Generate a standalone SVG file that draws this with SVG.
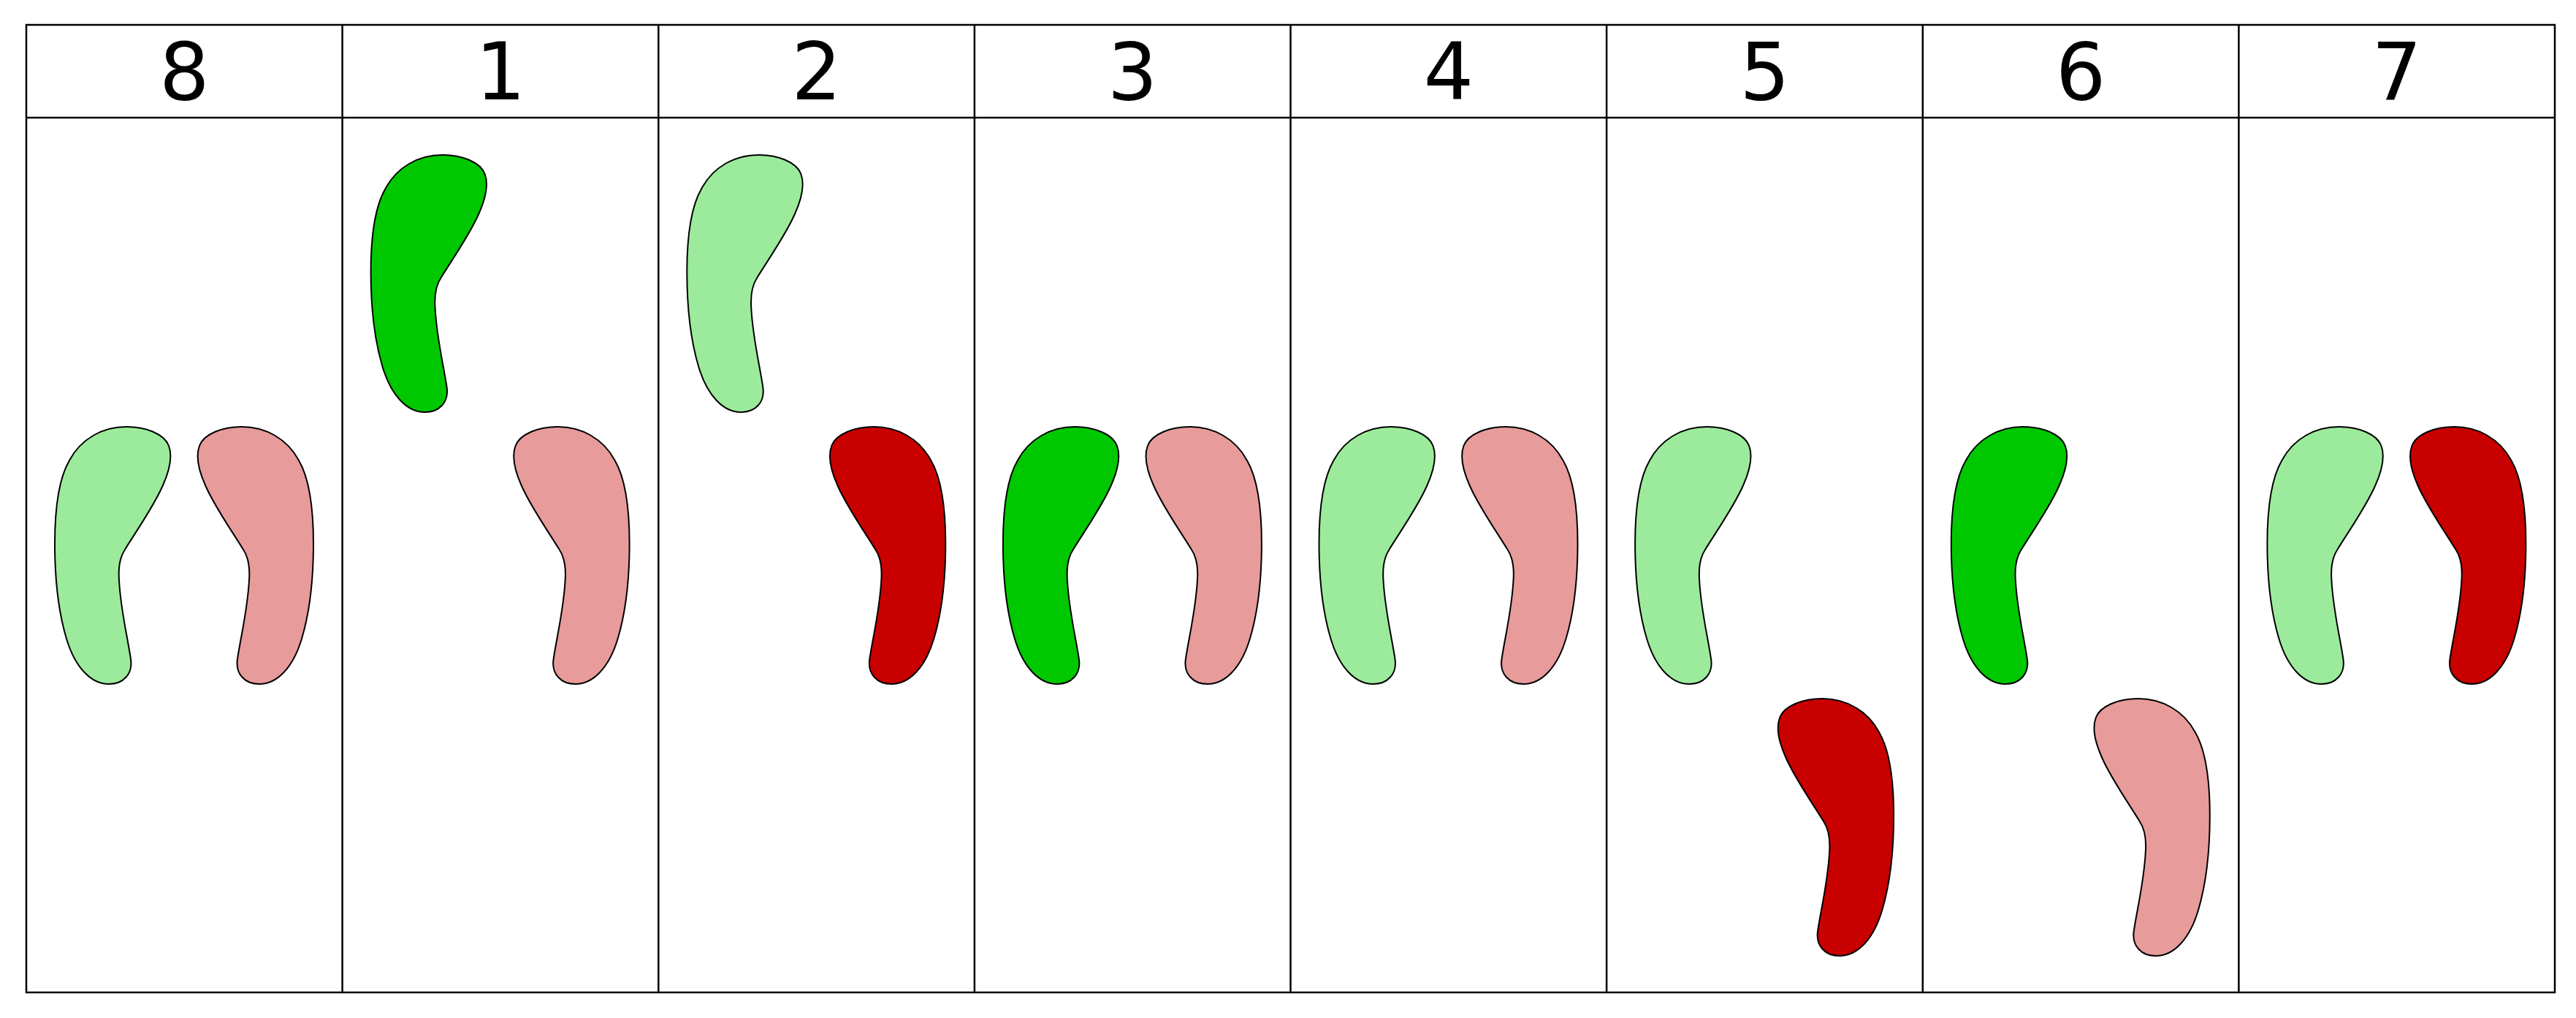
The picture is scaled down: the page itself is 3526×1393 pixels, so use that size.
<svg xmlns="http://www.w3.org/2000/svg" xmlns:xlink="http://www.w3.org/1999/xlink" width="3526" height="1393" viewBox="0 0 3526 1393">
<style>
.grid{fill:none;stroke:#000;stroke-width:2.5}
.hdr{font-family:"DejaVu Sans",sans-serif;font-size:108px;fill:#000;text-anchor:middle}
.foot{stroke:#000;stroke-width:2}
.lg{fill:#9ceb9c}.dg{fill:#00c800}.pk{fill:#e89b9b}.dr{fill:#c80000}
</style>
<defs>
<path id="footL" d="M98,0 C125,0 150,10 156,26 C162,42 156,62 148,80 C136,108 112,142 96,168 C88,180 87,196 88,210 C90,250 100,290 104,318 C107,338 94,352 74,352 C50,352 28,330 16,290 C4,250 0,200 0,160 C0,110 6,70 20,46 C36,16 66,0 98,0 Z"/>
</defs>
<rect width="3526" height="1393" fill="#fff"/>
<g id="table" class="grid">
<rect x="36" y="34" width="3461" height="1324"/>
<line x1="36" y1="161" x2="3497" y2="161"/>
<line x1="468.6" y1="34" x2="468.6" y2="1358"/>
<line x1="901.3" y1="34" x2="901.3" y2="1358"/>
<line x1="1333.9" y1="34" x2="1333.9" y2="1358"/>
<line x1="1766.5" y1="34" x2="1766.5" y2="1358"/>
<line x1="2199.1" y1="34" x2="2199.1" y2="1358"/>
<line x1="2631.8" y1="34" x2="2631.8" y2="1358"/>
<line x1="3064.4" y1="34" x2="3064.4" y2="1358"/>
</g>
<g id="headers" class="hdr">
<text x="252.3" y="136">8</text>
<text x="685" y="136">1</text>
<text x="1117.6" y="136">2</text>
<text x="1550.2" y="136">3</text>
<text x="1982.8" y="136">4</text>
<text x="2415.5" y="136">5</text>
<text x="2848.1" y="136">6</text>
<text x="3280.7" y="136">7</text>
</g>
<g id="col8">
<use xlink:href="#footL" class="foot lg" transform="translate(75,584)"/>
<use xlink:href="#footL" class="foot pk" transform="translate(429,584) scale(-1,1)"/>
</g>
<g id="col1">
<use xlink:href="#footL" class="foot dg" transform="translate(507.6,212)"/>
<use xlink:href="#footL" class="foot pk" transform="translate(861.6,584) scale(-1,1)"/>
</g>
<g id="col2">
<use xlink:href="#footL" class="foot lg" transform="translate(940.3,212)"/>
<use xlink:href="#footL" class="foot dr" transform="translate(1294.3,584) scale(-1,1)"/>
</g>
<g id="col3">
<use xlink:href="#footL" class="foot dg" transform="translate(1372.9,584)"/>
<use xlink:href="#footL" class="foot pk" transform="translate(1726.9,584) scale(-1,1)"/>
</g>
<g id="col4">
<use xlink:href="#footL" class="foot lg" transform="translate(1805.5,584)"/>
<use xlink:href="#footL" class="foot pk" transform="translate(2159.5,584) scale(-1,1)"/>
</g>
<g id="col5">
<use xlink:href="#footL" class="foot lg" transform="translate(2238.1,584)"/>
<use xlink:href="#footL" class="foot dr" transform="translate(2592.1,956) scale(-1,1)"/>
</g>
<g id="col6">
<use xlink:href="#footL" class="foot dg" transform="translate(2670.8,584)"/>
<use xlink:href="#footL" class="foot pk" transform="translate(3024.8,956) scale(-1,1)"/>
</g>
<g id="col7">
<use xlink:href="#footL" class="foot lg" transform="translate(3103.4,584)"/>
<use xlink:href="#footL" class="foot dr" transform="translate(3457.4,584) scale(-1,1)"/>
</g>
<g id="connectors"/>
</svg>
